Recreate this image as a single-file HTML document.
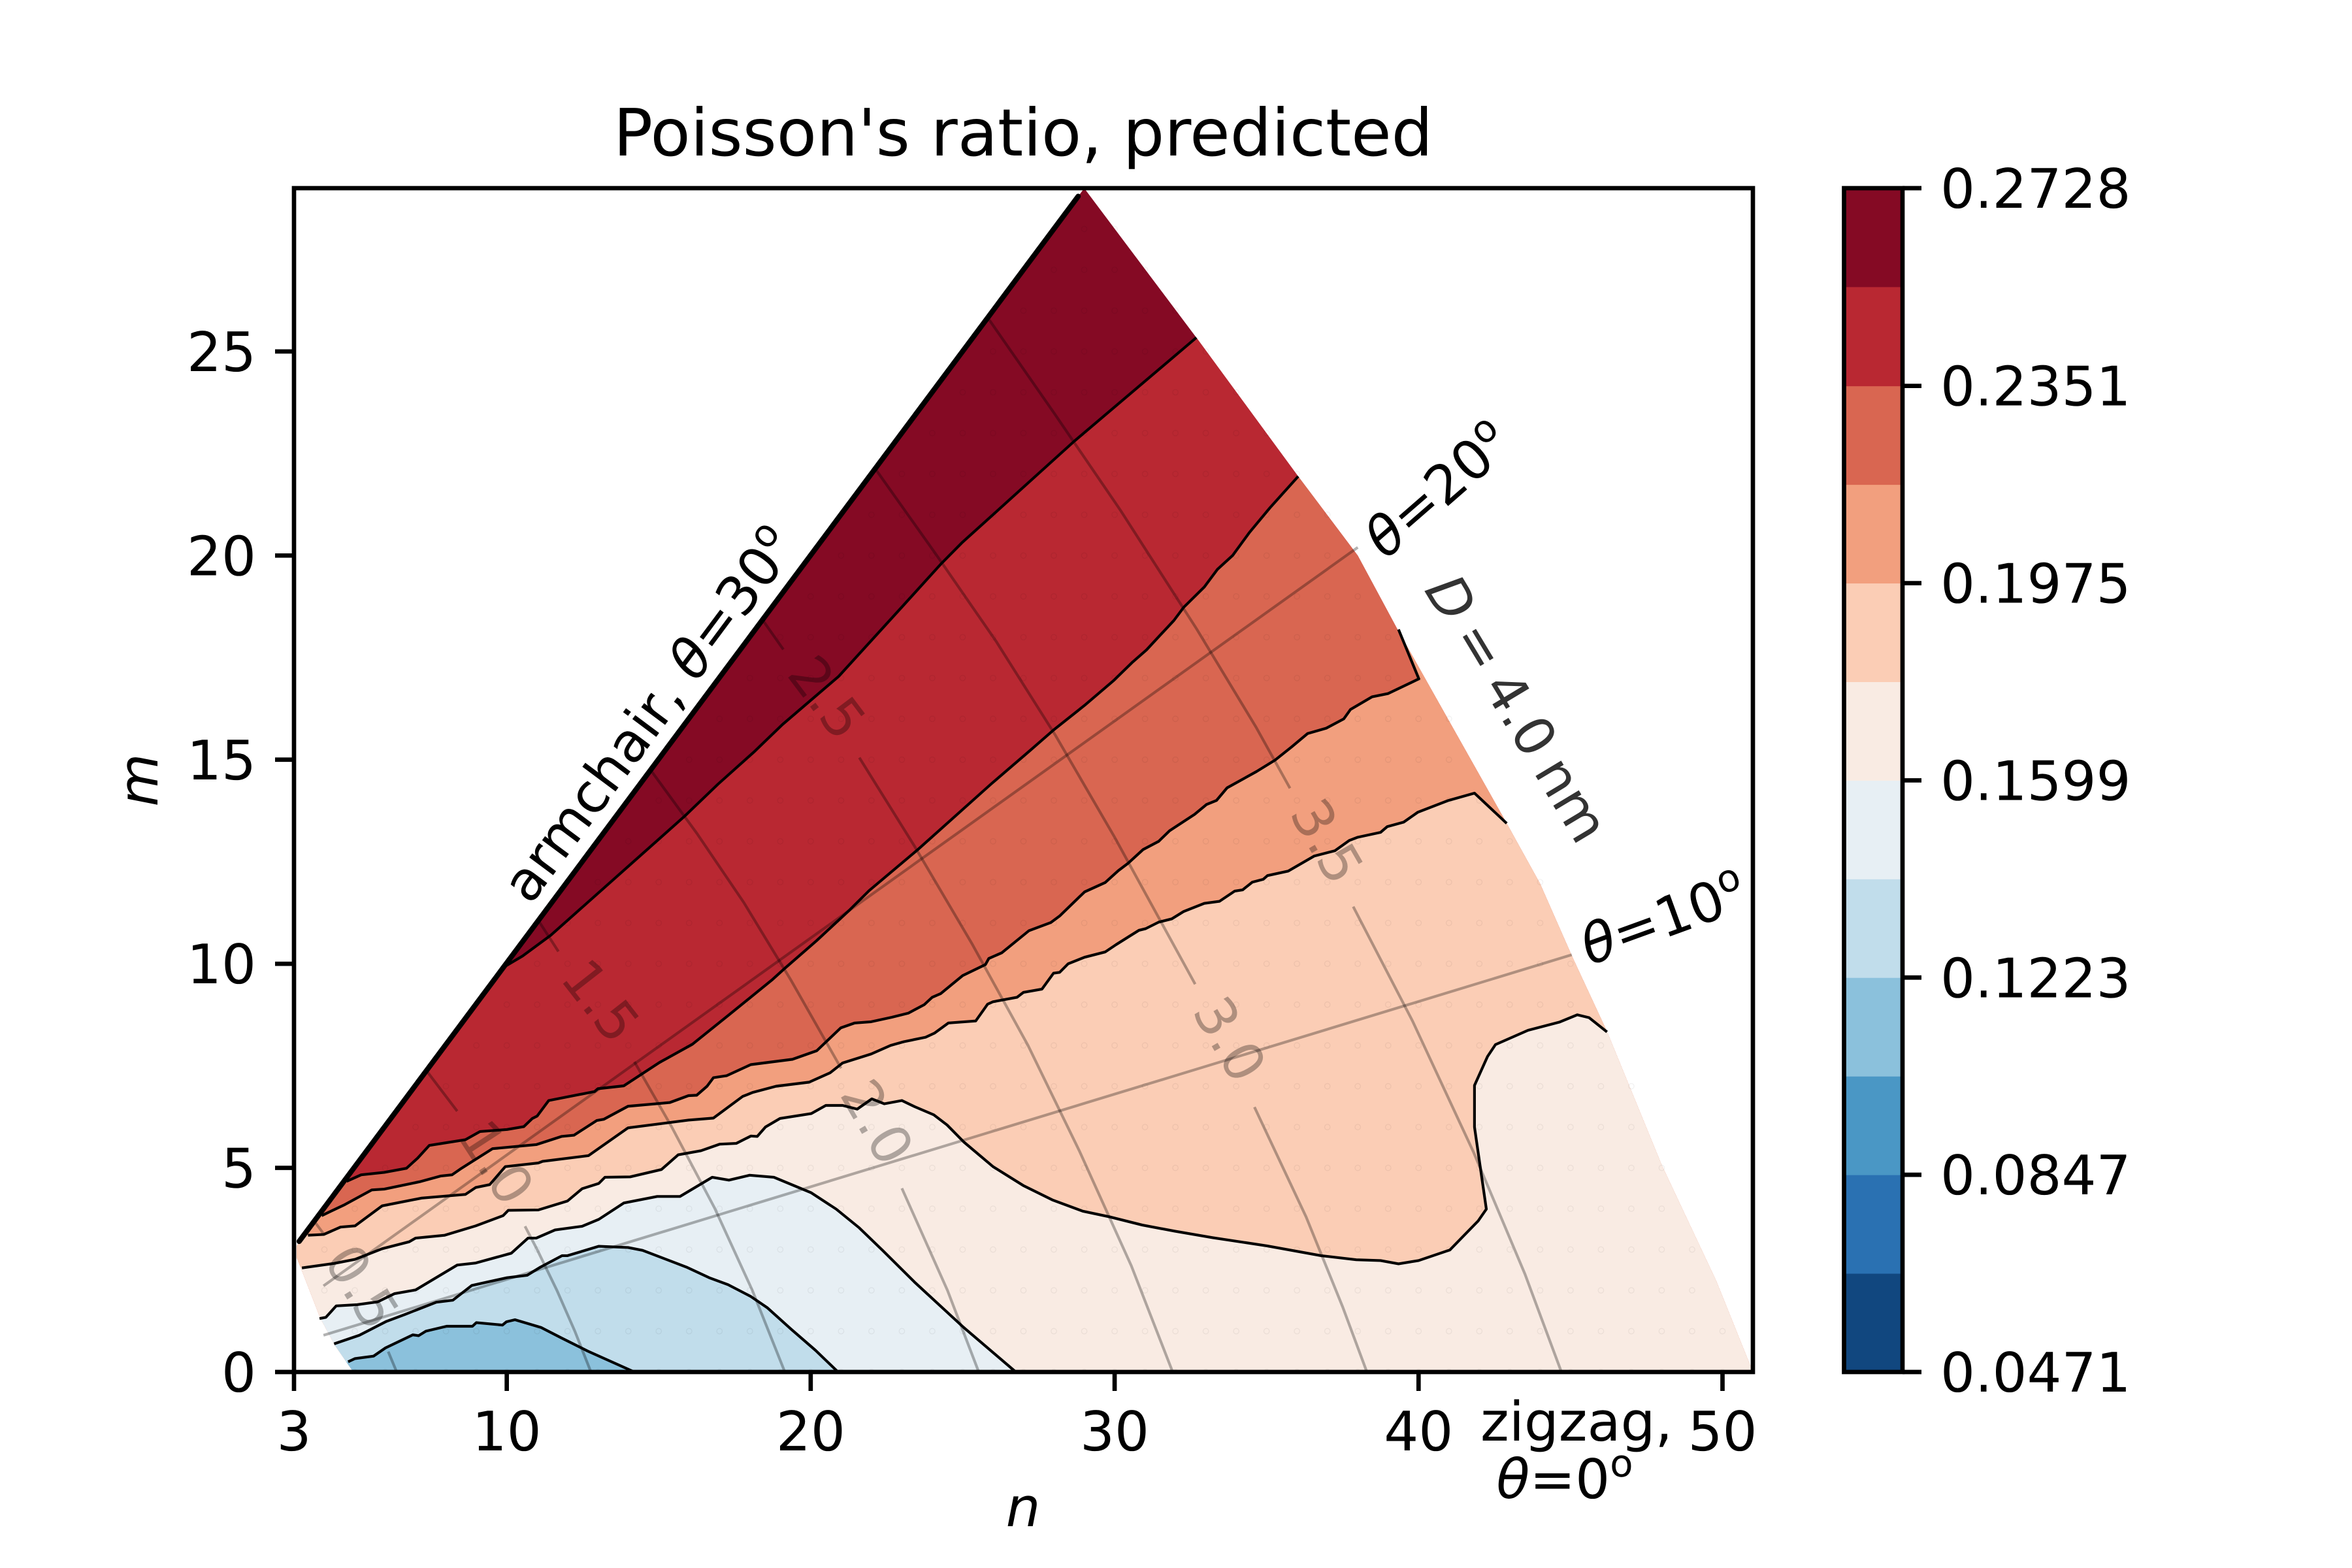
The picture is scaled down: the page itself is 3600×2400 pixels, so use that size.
<!DOCTYPE html>
<html lang="en">
<head>
<meta charset="utf-8">
<title>Poisson's ratio, predicted</title>
<style>
html,body{margin:0;padding:0;background:#fff;}
svg{display:block;}
text{font-family:"DejaVu Sans","Liberation Sans",sans-serif;font-size:83.33px;fill:#000;text-rendering:geometricPrecision;}
.it{font-style:italic;}
</style>
</head>
<body>
<svg id="chart" xmlns="http://www.w3.org/2000/svg" width="3600" height="2400" viewBox="0 0 3600 2400">
  <rect x="0" y="0" width="3600" height="2400" fill="#fff"/>
  <defs>
    <clipPath id="domainClip"><polygon id="domainClipPoly" points="0,0"/></clipPath>
    <clipPath id="axesClip"><rect x="450" y="288" width="2233" height="1812"/></clipPath>
  </defs>
  <g id="plotArea" clip-path="url(#axesClip)"></g>
  <g id="overlay"></g>
  <rect x="450" y="288" width="2233" height="1812" fill="none" stroke="#000" stroke-width="6.67"/>
  <g id="ticks"></g>
  <g id="colorbar"></g>

  <text x="1566" y="238" text-anchor="middle" style="font-size:100px">Poisson's ratio, predicted</text>
  <text x="1566" y="2336" text-anchor="middle" class="it">n</text>
  <text transform="translate(241,1194) rotate(-90)" text-anchor="middle" class="it">m</text>

  <text transform="translate(993,1093) rotate(-53.3)" text-anchor="middle" dy="30">armchair, <tspan class="it">θ</tspan>=30<tspan dy="-33" style="font-size:58px">o</tspan></text>
  <text transform="translate(2200,749) rotate(-41)" text-anchor="middle" dy="30"><tspan class="it">θ</tspan>=20<tspan dy="-33" style="font-size:58px">o</tspan></text>
  <text transform="translate(2546,1405) rotate(-20)" text-anchor="middle" dy="30"><tspan class="it">θ</tspan>=10<tspan dy="-33" style="font-size:58px">o</tspan></text>
  <text transform="translate(2323,1084) rotate(59)" text-anchor="middle" dy="30" style="fill-opacity:.8;word-spacing:-7px"><tspan class="it">D</tspan> = 4.0 nm</text>
  <text x="2266" y="2205">zigzag,</text>
  <text x="2395" y="2293" text-anchor="middle"><tspan class="it">θ</tspan>=0<tspan dy="-33" style="font-size:58px">o</tspan></text>
</svg>

<script>
// ---------- data (n, m chirality coordinates) ----------
const xLimits = [3, 51];
const yLimits = [0, 29];
const xTickValues = [3, 10, 20, 30, 40, 50];
const yTickValues = [0, 5, 10, 15, 20, 25];
const colorbarTickLabels = ["0.0471", "0.0847", "0.1223", "0.1599", "0.1975", "0.2351", "0.2728"];
const colorbarLevels = [0.0471, 0.0659, 0.0847, 0.1035, 0.1223, 0.1411, 0.1599, 0.1787, 0.1975, 0.2163, 0.2351, 0.2540, 0.2728];

const domainEdge = [[4.95,0],[4.33,0.67],[3.86,1.33],[3.25,2.5],[3.09,2.8],[3.09,3.09],[29,29],[32.7,25.33],[36.04,21.94],[38.0,20.0],[39.3,18.2],[42.9,13.44],[44,11.96],[45.04,10.2],[46.2,8.34],[48,5.07],[49.8,2.22],[51,0]];

const contourBlue = [[4.78,.25],[5.01,.33],[5.62,.39],[6.01,.59],[6.91,.91],[7.10,.89],[7.34,1.0],[8.02,1.12],[8.87,1.12],[9.0,1.21],[9.86,1.15],[9.99,1.23],[10.27,1.28],[11.13,1.09],[11.81,.83],[12.67,.51],[14.2,0]];

const contourLightBlue = [[4.32,.69],[5.15,.90],[6.04,1.24],[6.65,1.41],[7.68,1.71],[8.23,1.76],[8.85,2.12],[10.01,2.31],[10.67,2.37],[11.11,2.57],[11.82,2.85],[12.0,2.85],[13.03,3.08],[13.99,3.05],[14.47,2.98],[15.91,2.57],[16.66,2.31],[17.28,2.14],[18.03,1.85],[18.58,1.57],[19.34,1.06],[20.16,.53],[20.9,0]];

const contourPaleBlue = [[3.84,1.31],[4.05,1.34],[4.39,1.62],[5.08,1.65],[5.76,1.72],[6.31,1.92],[7.0,2.01],[8.37,2.62],[8.98,2.67],[10.15,2.91],[10.70,3.28],[10.97,3.28],[11.59,3.48],[12.48,3.57],[13.03,3.74],[13.85,4.14],[14.95,4.30],[15.70,4.30],[16.76,4.77],[17.31,4.70],[17.99,4.82],[18.79,4.77],[20.02,4.39],[20.84,3.99],[21.60,3.53],[22.35,2.99],[23.42,2.2],[25.02,1.10],[26.75,0]];

const contourCream = [[3.26,2.55],[4.32,2.66],[5.01,2.76],[5.90,3.02],[6.79,3.19],[7.0,3.28],[7.96,3.35],[8.98,3.58],[9.88,3.83],[10.05,3.96],[11.04,3.97],[12.0,4.19],[12.48,4.49],[13.03,4.62],[13.23,4.77],[14.06,4.78],[15.09,4.96],[15.64,5.32],[16.39,5.42],[17.0,5.58],[17.55,5.60],[18.03,5.78],[18.24,5.77],[18.51,6.0],[18.99,6.21],[20.02,6.33],[20.50,6.53],[21.05,6.53],[21.53,6.44],[22.01,6.69],[22.42,6.57],[23.0,6.65],[23.42,6.5],[24.05,6.30],[24.49,6.05],[25.03,5.64],[26.0,5.03],[26.99,4.57],[27.97,4.21],[28.95,3.94],[29.84,3.80],[30.91,3.60],[31.98,3.45],[33.23,3.29],[35.01,3.09],[36.79,2.85],[37.95,2.75],[38.75,2.73],[39.34,2.65],[40.0,2.73],[41.03,2.99],[41.96,3.70],[42.23,3.99],[41.84,6.0],[41.84,7.02],[42.27,7.73],[42.53,8.02],[43.60,8.37],[44.63,8.57],[45.22,8.75],[45.61,8.68],[46.20,8.33]];

const contourPeach = [[3.46,3.35],[3.98,3.37],[4.53,3.55],[5.01,3.58],[5.90,4.07],[7.20,4.26],[8.64,4.35],[8.98,4.52],[9.44,4.59],[9.95,5.03],[11.04,5.12],[11.18,5.16],[12.69,5.30],[13.99,5.98],[15.98,6.17],[16.80,6.22],[17.76,6.75],[18.10,6.85],[18.86,7.0],[19.95,7.10],[20.64,7.33],[21.05,7.57],[21.99,7.79],[22.63,8.0],[23.06,8.09],[23.78,8.20],[24.07,8.30],[24.53,8.55],[25.43,8.60],[25.82,9.01],[26.0,9.07],[26.79,9.18],[27.0,9.30],[27.61,9.38],[27.99,9.77],[28.19,9.79],[28.47,10.0],[29.01,10.16],[29.69,10.29],[30.05,10.47],[30.52,10.69],[30.80,10.82],[31.02,10.86],[31.45,11.02],[31.88,11.1],[32.27,11.28],[32.95,11.48],[33.45,11.53],[33.95,11.78],[34.21,11.81],[34.53,12.0],[34.89,12.07],[35.03,12.16],[35.71,12.27],[36.57,12.64],[37.25,12.77],[37.72,13.02],[38.0,13.1],[38.75,13.22],[38.97,13.36],[39.51,13.47],[39.97,13.71],[40.98,14.0],[41.84,14.18],[42.9,13.44]];

const contourOrange = [[3.91,3.83],[4.67,4.10],[5.56,4.46],[5.97,4.48],[7.13,4.66],[7.82,4.80],[8.20,4.83],[8.51,4.99],[9.53,5.47],[10.97,5.57],[11.80,5.77],[12.21,5.80],[12.96,6.16],[13.19,6.19],[13.99,6.51],[15.36,6.60],[15.98,6.77],[16.25,6.78],[16.59,7.0],[16.80,7.21],[17.24,7.26],[18.03,7.53],[19.40,7.66],[20.2,7.87],[20.99,8.43],[21.45,8.55],[21.99,8.58],[22.67,8.69],[23.21,8.79],[23.74,9.0],[24.0,9.18],[24.28,9.27],[25.0,9.71],[25.75,9.98],[25.86,10.13],[26.29,10.27],[27.18,10.81],[27.9,11.01],[28.19,11.17],[29.01,11.76],[29.69,11.99],[30.12,12.28],[30.44,12.46],[30.94,12.8],[31.45,13.0],[31.81,13.26],[32.63,13.66],[33.02,13.9],[33.35,14.0],[33.70,14.31],[34.67,14.71],[35.28,14.99],[35.82,15.31],[36.35,15.64],[36.96,15.77],[37.54,16.0],[37.76,16.23],[38.47,16.54],[39.0,16.62],[40.01,16.98],[39.34,18.19]];

const contourSalmon = [[4.73,4.67],[5.21,4.83],[5.97,4.89],[6.70,4.99],[7.07,5.24],[7.45,5.55],[8.64,5.69],[9.12,5.89],[10.01,5.94],[10.56,6.01],[10.84,6.21],[11.0,6.27],[11.38,6.65],[12.89,6.87],[13.0,6.94],[13.85,7.01],[15.02,7.58],[16.11,8.03],[17.28,8.73],[18.72,9.60],[19.12,9.87],[20.2,10.57],[21.27,11.31],[21.92,11.79],[23.53,12.8],[25.93,14.4],[27.18,15.2],[27.98,15.72],[29.01,16.33],[29.97,16.94],[30.59,17.39],[31.05,17.69],[31.41,17.98],[31.95,18.41],[32.27,18.73],[32.95,19.23],[33.38,19.66],[33.88,20.0],[34.43,20.56],[35.11,21.17],[36.04,21.94]];

const contourRed = [[9.86,9.9],[10.52,10.19],[11.45,10.7],[15.83,13.6],[16.95,14.4],[18.15,15.2],[19.07,15.86],[20.92,17.04],[23.05,18.78],[24.28,19.79],[24.97,20.31],[28.67,22.8],[32.69,25.34]];

const armchairEdge = [[3.17,3.2],[28.8,28.8]];
const thetaTwentyLine = [[3.97,2.11],[38,20.2]];
const thetaTenLine = [[3.97,.9],[45.04,10.22]];

const diameter05Lower = [[6.38,0],[6.1,.5]];
const diameter05Upper = [[4.0,3.36],[3.68,3.68]];
const diameter10Lower = [[12.77,0],[12.24,1],[11.65,2],[11.0,3],[10.6,3.57]];
const diameter10Upper = [[8.37,6.39],[7.9,6.85],[7.37,7.37]];
const diameter15Lower = [[19.15,0],[18.08,2],[16.85,4],[15.43,6],[14.2,7.6]];
const diameter15Upper = [[11.7,10.3],[11.05,11.05]];
const diameter20Lower = [[25.53,0],[24.5,2],[23,4.5]];
const diameter20Upper = [[21,7.44],[19.35,9.6],[17.8,11.5],[16.25,13.2],[14.74,14.74]];
const diameter25Lower = [[21.6,15.05],[23.4,12.9],[25.3,10.5],[27.15,8],[28.85,5.4],[30.55,2.6],[31.91,0]];
const diameter25Upper = [[18.42,18.42],[19.1,17.7]];
const diameter30Lower = [[34.6,6.49],[36.3,3.8],[37.5,1.6],[38.3,0]];
const diameter30Upper = [[22.15,22.1],[24.15,20],[26.1,17.9],[28.05,15.6],[30,13.1],[32.65,9.5]];
const diameter35Lower = [[37.85,11.4],[39.8,8.6],[41.8,5.4],[43.5,2.4],[44.7,0]];
const diameter35Upper = [[25.85,25.8],[28,23.5],[30.2,21.1],[32.7,18.2],[34.65,15.8],[35.77,14.3]];

const diameterLabels = ["0.5", "1.0", "1.5", "2.0", "2.5", "3.0", "3.5"];
const diameterLabelN = [5.25, 9.68, 13.1, 22.2, 20.55, 33.8, 37.0];
const diameterLabelM = [2.09, 5.14, 9.1, 6.13, 16.53, 8.16, 13.01];
const diameterLabelAngle = [58, 57, 52, 60, 53, 60, 60];

const sampleRowM = [0,1,2,3,4,5,6,7,8,9,10,11,12,13,14,15,16,17,18,19,20,21,22,23,24,25,26,27,28];
const sampleRowMinN = [5,5,4,4,5,6,7,8,9,10,11,12,13,14,15,16,17,18,19,20,21,22,23,24,25,26,27,28,29];
const sampleRowMaxN = [51,50,49,49,48,48,47,47,46,45,45,44,44,43,42,41,41,40,39,38,37,37,36,35,34,33,32,31,30];

// ---------- styling, kept apart from the data ----------
const bandColors = ["#11477f","#2a71b2","#4a97c5","#8bc1dc","#c1ddeb","#e7eff4","#f9ebe3","#fbcdb5","#f29f7e","#d96651","#b92832","#850a24"];
const SVGNS = "http://www.w3.org/2000/svg";
const plotLeft = 450, plotRight = 2683, plotTop = 288, plotBottom = 2100;
const cbLeft = 2822.5, cbRight = 2912;

function xScale(n){ return plotLeft + (n - xLimits[0]) * (plotRight - plotLeft) / (xLimits[1] - xLimits[0]); }
function yScale(m){ return plotBottom - (m - yLimits[0]) * (plotBottom - plotTop) / (yLimits[1] - yLimits[0]); }
function cbScale(v){ return plotBottom - (v - colorbarLevels[0]) * (plotBottom - plotTop) / (colorbarLevels[colorbarLevels.length-1] - colorbarLevels[0]); }
function toPoints(pts){ return pts.map(function(p){ return xScale(p[0]).toFixed(2) + "," + yScale(p[1]).toFixed(2); }).join(" "); }
function make(tag, parent){ const e = document.createElementNS(SVGNS, tag); parent.appendChild(e); return e; }

const plotArea = document.getElementById("plotArea");
const overlay = document.getElementById("overlay");
const ticks = document.getElementById("ticks");
const colorbar = document.getElementById("colorbar");

document.getElementById("domainClipPoly").setAttribute("points", toPoints(domainEdge));

// ---------- filled bands ----------
const fillGroup = make("g", plotArea);
fillGroup.setAttribute("clip-path", "url(#domainClip)");



const baseFill = make("polygon", fillGroup);


baseFill.setAttribute("points", toPoints(domainEdge));
baseFill.setAttribute("fill", bandColors[11]);

const bandContours = [contourRed, contourSalmon, contourOrange, contourPeach, contourCream, contourPaleBlue, contourLightBlue, contourBlue];
const bandFillIndex = [10, 9, 8, 7, 6, 5, 4, 3];

function belowPolygon(pts){
  const first = pts[0], last = pts[pts.length - 1];
  const low = yLimits[0] - 5, far = xLimits[1] + 9;
  const tail = last[1] <= 0.1 ? [[last[0], low]] : [[far, last[1]], [far, low]];
  return pts.concat(tail, [[0, low], [0, first[1]]]);
}

bandContours.forEach(function(pts, i){
  const poly = make("polygon", fillGroup);
  
  
  poly.setAttribute("points", toPoints(belowPolygon(pts)));
  poly.setAttribute("fill", bandColors[bandFillIndex[i]]);
});

// ---------- sample points (faint rings) ----------
const dotGroup = make("g", plotArea);


sampleRowM.forEach(function(m, i){
  for (let n = sampleRowMinN[i]; n <= sampleRowMaxN[i]; n++) {
    const c = make("circle", dotGroup);
    
    
    c.setAttribute("cx", xScale(n));
    c.setAttribute("cy", yScale(m));
    c.setAttribute("r", 4.2);
    c.setAttribute("fill", "none");
    c.setAttribute("stroke", "rgba(0,0,0,0.055)");
    c.setAttribute("stroke-width", 1.3);
  }
});

// ---------- iso-diameter and chiral-angle guides ----------
const guideGroup = make("g", overlay);


const guideLines = [diameter05Lower, diameter05Upper, diameter10Lower, diameter10Upper, diameter15Lower, diameter15Upper, diameter20Lower, diameter20Upper, diameter25Lower, diameter25Upper, diameter30Lower, diameter30Upper, diameter35Lower, diameter35Upper, thetaTwentyLine, thetaTenLine];
guideLines.forEach(function(pts){
  const l = make("polyline", guideGroup);
  
  
  l.setAttribute("points", toPoints(pts));
  l.setAttribute("fill", "none");
  l.setAttribute("stroke", "#000");
  l.setAttribute("stroke-opacity", "0.3");
  l.setAttribute("stroke-width", "4.17");
});

diameterLabels.forEach(function(label, i){
  const t = make("text", guideGroup);
  
  
  const x = xScale(diameterLabelN[i]), y = yScale(diameterLabelM[i]);
  t.setAttribute("transform", "translate(" + x + "," + y + ") rotate(" + diameterLabelAngle[i] + ")");
  t.setAttribute("text-anchor", "middle");
  t.setAttribute("dy", "30");
  t.setAttribute("style", "fill-opacity:.3");
  t.textContent = label;
});

// ---------- contour lines ----------
const lineGroup = make("g", overlay);


bandContours.forEach(function(pts){
  const l = make("polyline", lineGroup);
  
  
  l.setAttribute("points", toPoints(pts));
  l.setAttribute("fill", "none");
  l.setAttribute("stroke", "#000");
  l.setAttribute("stroke-width", "4.17");
  l.setAttribute("stroke-linejoin", "round");
});

const armchair = make("polyline", lineGroup);


armchair.setAttribute("points", toPoints(armchairEdge));
armchair.setAttribute("fill", "none");
armchair.setAttribute("stroke", "#000");
armchair.setAttribute("stroke-width", "8");
armchair.setAttribute("stroke-linecap", "round");

// ---------- axis ticks ----------
xTickValues.forEach(function(v){
  const x = xScale(v);
  const t = make("line", ticks);
  
  
  t.setAttribute("x1", x); t.setAttribute("x2", x);
  t.setAttribute("y1", plotBottom); t.setAttribute("y2", plotBottom + 29);
  t.setAttribute("stroke", "#000"); t.setAttribute("stroke-width", "6.67");
  const label = make("text", ticks);
  
  
  label.setAttribute("x", x);
  label.setAttribute("y", plotBottom + 120);
  label.setAttribute("text-anchor", "middle");
  label.textContent = v;
});
yTickValues.forEach(function(v){
  const y = yScale(v);
  const t = make("line", ticks);
  
  
  t.setAttribute("x1", plotLeft - 29); t.setAttribute("x2", plotLeft);
  t.setAttribute("y1", y); t.setAttribute("y2", y);
  t.setAttribute("stroke", "#000"); t.setAttribute("stroke-width", "6.67");
  const label = make("text", ticks);
  
  
  label.setAttribute("x", plotLeft - 58);
  label.setAttribute("y", y + 30);
  label.setAttribute("text-anchor", "end");
  label.textContent = v;
});

// ---------- colorbar ----------
bandColors.forEach(function(color, i){
  const r = make("rect", colorbar);
  
  
  const y2 = cbScale(colorbarLevels[i]), y1 = cbScale(colorbarLevels[i + 1]);
  r.setAttribute("x", cbLeft);
  r.setAttribute("y", y1);
  r.setAttribute("width", cbRight - cbLeft);
  r.setAttribute("height", y2 - y1 + 0.5);
  r.setAttribute("fill", color);
});
const cbOutline = make("rect", colorbar);


cbOutline.setAttribute("x", cbLeft);
cbOutline.setAttribute("y", plotTop);
cbOutline.setAttribute("width", cbRight - cbLeft);
cbOutline.setAttribute("height", plotBottom - plotTop);
cbOutline.setAttribute("fill", "none");
cbOutline.setAttribute("stroke", "#000");
cbOutline.setAttribute("stroke-width", "6.67");
colorbarTickLabels.forEach(function(text){
  const y = cbScale(parseFloat(text));
  const t = make("line", colorbar);
  
  
  t.setAttribute("x1", cbRight); t.setAttribute("x2", cbRight + 29);
  t.setAttribute("y1", y); t.setAttribute("y2", y);
  t.setAttribute("stroke", "#000"); t.setAttribute("stroke-width", "6.67");
  const label = make("text", colorbar);
  
  
  label.setAttribute("x", cbRight + 58);
  label.setAttribute("y", y + 30);
  label.textContent = text;
});
</script>
</body>
</html>
